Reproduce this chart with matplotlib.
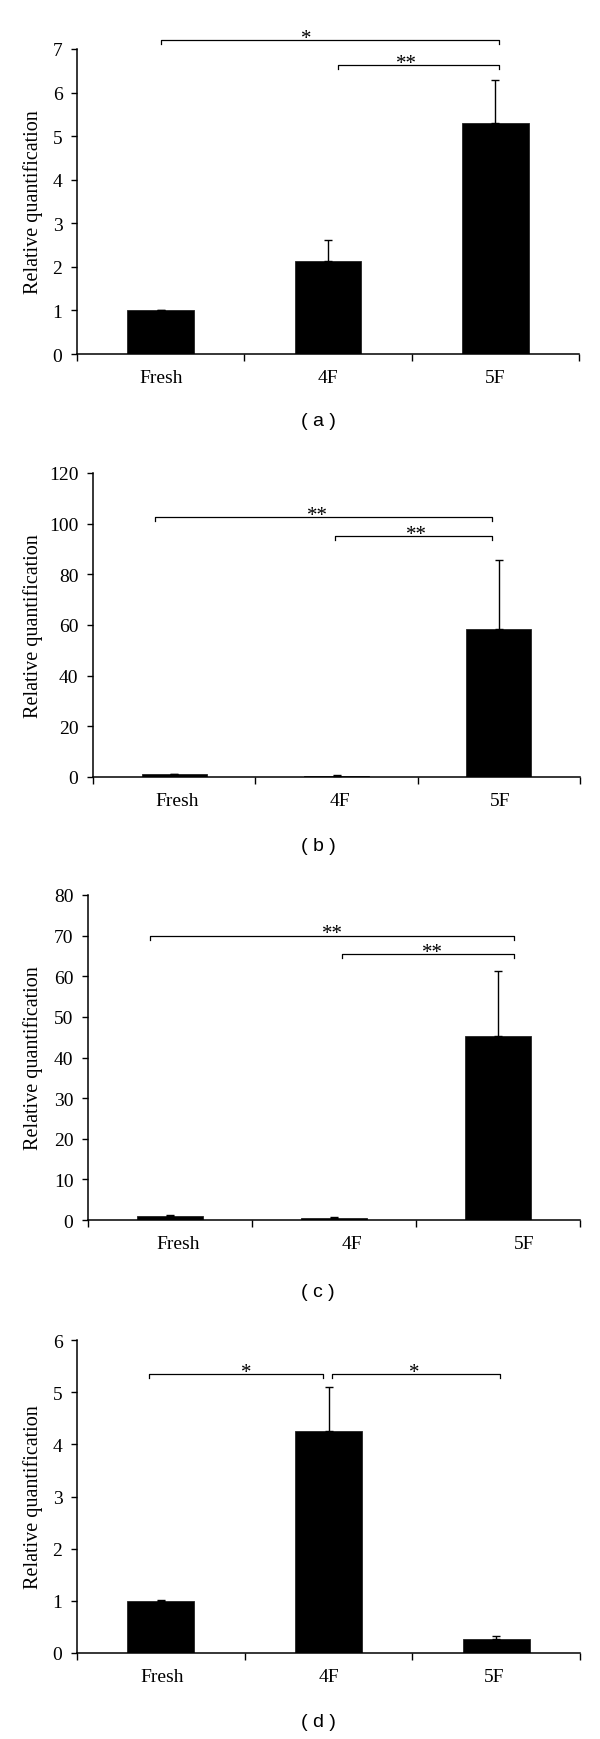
import matplotlib.pyplot as plt
import numpy as np

plt.rcParams['font.family'] = ['Liberation Serif', 'DejaVu Serif']

categories = ['Fresh', '4F', '5F']

# relative quantification, mean and upper error for each panel
means_a = [1.0, 2.13, 5.31]
errs_a = [0.02, 0.49, 0.99]
means_b = [1.05, 0.5, 58.4]
errs_b = [0.2, 0.2, 27.4]
means_c = [0.98, 0.49, 45.3]
errs_c = [0.17, 0.25, 16.1]
means_d = [1.0, 4.26, 0.26]
errs_d = [0.02, 0.83, 0.07]

W, H = 600, 1740
fig = plt.figure(figsize=(W / 100, H / 100), dpi=100)


def axes_at(left, right, top, bottom):
    # box given in pixels of the final picture
    return fig.add_axes([left / W, 1 - bottom / H, (right - left) / W, (bottom - top) / H])


panels = [
    dict(means=means_a, errs=errs_a, ymax=7, step=1, box=(77, 579, 50, 355),
         brackets=[(0.0, 2.02, 7.21, '*', 0.87), (1.06, 2.02, 6.63, '**', 1.47)],
         ticklab=[0, 1, 2], tag='( a )', tag_y=422),
    dict(means=means_b, errs=errs_b, ymax=120, step=20, box=(93, 580, 474, 778),
         brackets=[(-0.12, 1.96, 102.6, '**', 0.88), (0.99, 1.96, 95.0, '**', 1.49)],
         ticklab=[0.02, 1.02, 2.01], tag='( b )', tag_y=847),
    dict(means=means_c, errs=errs_c, ymax=80, step=10, box=(88, 580, 896, 1221),
         brackets=[(-0.12, 2.1, 70.0, '**', 0.99), (1.05, 2.1, 65.4, '**', 1.6)],
         ticklab=[0.05, 1.11, 2.16], tag='( c )', tag_y=1293),
    dict(means=means_d, errs=errs_d, ymax=6, step=1, box=(77, 580, 1341, 1654),
         brackets=[(-0.07, 0.97, 5.35, '*', 0.51), (1.02, 2.02, 5.35, '*', 1.51)],
         ticklab=[0.01, 1.0, 1.99], tag='( d )', tag_y=1723),
]

x = np.arange(len(categories))

for p in panels:
    left, right, top, bottom = p['box']
    ax = axes_at(left, right, top, bottom)
    ax.bar(x, p['means'], width=0.4, color='black', edgecolor='#222222', linewidth=0.6, zorder=2)
    ax.errorbar(x, p['means'], yerr=[np.zeros(3), p['errs']], fmt='none',
                ecolor='black', elinewidth=1.0, capsize=3, capthick=1.0, zorder=3)
    ax.set_xlim(-0.5, 2.5)
    ax.set_ylim(0, p['ymax'])
    ax.set_yticks(np.arange(0, p['ymax'] + p['step'] / 2, p['step']))
    ax.set_xticks(p['ticklab'])
    ax.set_xticklabels(categories)
    ax.set_xticks([-0.5, 0.5, 1.5, 2.5], minor=True)
    ax.tick_params(axis='x', which='major', length=0, pad=11, labelsize=14)
    ax.tick_params(axis='x', which='minor', length=5, width=1.0, direction='out')
    ax.tick_params(axis='y', length=4, width=1.0, direction='out', pad=6.5, labelsize=14)
    for s in ['top', 'right']:
        ax.spines[s].set_visible(False)
    for s in ['left', 'bottom']:
        ax.spines[s].set_linewidth(1.1)
    ax.set_ylabel('Relative quantification', fontsize=14.5)
    ax.yaxis.set_label_coords((43 - left) / (right - left), 0.5)

    # significance brackets
    drop = p['ymax'] * 0.012
    for x0, x1, y, star, xs in p['brackets']:
        ax.plot([x0, x0, x1, x1], [y - drop, y, y, y - drop], color='black', lw=0.9, clip_on=False)
        ax.annotate(star, (xs, y), xytext=(0, -2), textcoords='offset points',
                    ha='center', va='baseline', fontsize=15, annotation_clip=False)

    fig.text(318 / W, 1 - p['tag_y'] / H, p['tag'], ha='center', va='center',
             fontsize=14, family=['Liberation Sans', 'DejaVu Sans'])

fig.savefig('out.png', dpi=100, facecolor='white')
